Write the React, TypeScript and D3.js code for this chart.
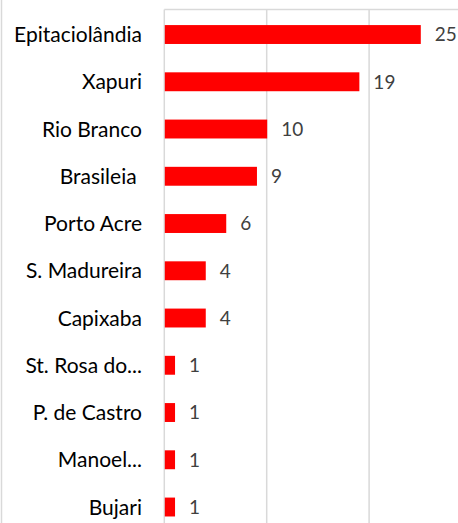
import React from "react";
import * as d3 from "d3";

const categories = [
  "Epitaciolândia",
  "Xapuri",
  "Rio Branco",
  "Brasileia ",
  "Porto Acre",
  "S. Madureira",
  "Capixaba",
  "St. Rosa do...",
  "P. de Castro",
  "Manoel...",
  "Bujari",
];
const values = [25, 19, 10, 9, 6, 4, 4, 1, 1, 1, 1];
const gridTicks = [0, 10, 20, 30];

const W = 458;
const H = 523;

export default function App() {
  const x = d3.scaleLinear().domain([0, 30]).range([164.3, 471.5]);
  const y = d3
    .scaleBand<string>()
    .domain(categories)
    .range([10.9, 10.9 + 47.25 * categories.length])
    .paddingInner(0.6)
    .paddingOuter(0.3);
  const font = "Lato, 'Open Sans', sans-serif";
  return (
    <svg
      width={W}
      height={H}
      style={{ position: "absolute", left: 0, top: 0, background: "#fff" }}
    >
      <line x1={1.5} x2={1.5} y1={0} y2={H} stroke="#d9d9d9" strokeWidth={1.5} />
      <line x1={x(0)} x2={W} y1={9.5} y2={9.5} stroke="#d9d9d9" strokeWidth={1.5} />
      {gridTicks.map((t) => (
        <line
          key={t}
          x1={x(t)}
          x2={x(t)}
          y1={9.5}
          y2={H}
          stroke="#d9d9d9"
          strokeWidth={1.5}
        />
      ))}
      {categories.map((c, i) => {
        const yb = y(c)!;
        const bw = y.bandwidth();
        const cy = yb + bw / 2;
        return (
          <g key={c}>
            <rect
              x={x(0) + 0.5}
              y={yb}
              width={x(values[i]) - x(0)}
              height={bw}
              fill="#ff0000"
            />
            <text
              x={142}
              y={cy}
              dy="0.36em"
              textAnchor="end"
              fontFamily={font}
              fontWeight={400}
              fontSize={21}
              fill="#000"
              style={{ whiteSpace: "pre" }}
            >
              {c}
            </text>
            <text
              x={x(values[i]) + 14.5}
              y={cy}
              dy="0.36em"
              fontFamily={font}
              fontWeight={400}
              fontSize={19}
              fill="#404040"
            >
              {values[i]}
            </text>
          </g>
        );
      })}
    </svg>
  );
}
